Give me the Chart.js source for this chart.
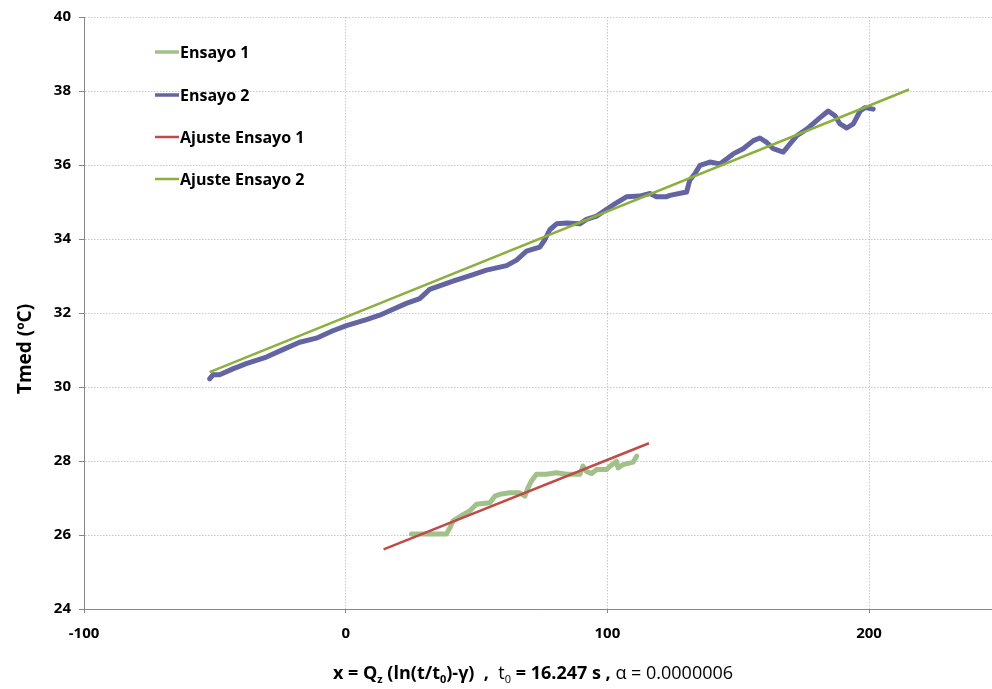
<!DOCTYPE html>
<html>
<head>
<meta charset="utf-8">
<script src="https://cdn.jsdelivr.net/npm/chart.js@4.4.1/dist/chart.umd.min.js"></script>
<style>
  html, body { margin: 0; padding: 0; background: #fff; overflow: hidden; }
  #wrap { position: relative; width: 992px; height: 689px; }
  #c { position: absolute; left: 0; top: 0; }
  #xt { position: absolute; left: 0; top: 661px; width: 1066px; text-align: center;
        font-family: "Open Sans", sans-serif; font-size: 18px; color: #000; white-space: pre; line-height: 22px; }
  #xt b { font-weight: 700; }
  #xt .r { font-weight: 400; }
  #xt sub { font-size: 11px; vertical-align: -4px; line-height: 0; }
</style>
</head>
<body>
<div id="wrap">
  <canvas id="c" width="992" height="689"></canvas>
  <div id="xt"><b>x = Q<sub>z</sub> (ln(t/t<sub>0</sub>)-γ)  ,  </b><span class="r">t<sub>0</sub></span><b> = 16.247 s , </b><span class="r">α = 0.0000006</span></div>
</div>
<script>
// ---- data ----
const ensayo1X = [25.1, 30.9, 38.5, 39.8, 41.0, 44.2, 47.4, 50.0, 55.1, 57.0, 58.9, 62.7, 66.5, 68.5, 69.7, 71.0, 72.9, 76.7, 80.6, 84.4, 89.5, 90.7, 92.0, 94.0, 95.9, 99.7, 101.0, 103.5, 104.1, 106.0, 109.9, 111.2];
const ensayo1Y = [26.03, 26.03, 26.03, 26.19, 26.38, 26.52, 26.65, 26.83, 26.87, 27.05, 27.10, 27.14, 27.14, 27.05, 27.28, 27.46, 27.64, 27.64, 27.68, 27.64, 27.64, 27.86, 27.72, 27.66, 27.77, 27.77, 27.86, 27.99, 27.81, 27.90, 27.97, 28.13];

const ensayo2X = [-52.0, -50.7, -48.2, -43.1, -38.0, -30.3, -24.0, -17.6, -11.2, -4.9, 0.3, 4.1, 7.9, 13.0, 18.1, 23.2, 28.3, 32.1, 41.0, 48.7, 53.8, 61.5, 65.3, 69.1, 74.2, 76.1, 78.0, 80.6, 84.4, 89.5, 92.0, 95.9, 99.7, 102.2, 107.3, 112.4, 116.3, 118.8, 122.6, 123.9, 130.3, 131.5, 133.5, 135.4, 139.2, 143.0, 148.1, 151.9, 155.8, 158.3, 160.9, 163.4, 167.2, 169.8, 172.4, 176.2, 181.3, 184.4, 187.0, 188.9, 191.5, 194.0, 196.6, 198.5, 201.6];
const ensayo2Y = [30.22, 30.33, 30.33, 30.49, 30.63, 30.81, 31.01, 31.21, 31.32, 31.52, 31.66, 31.74, 31.82, 31.94, 32.10, 32.26, 32.39, 32.64, 32.86, 33.04, 33.16, 33.28, 33.43, 33.67, 33.78, 33.98, 34.25, 34.41, 34.43, 34.41, 34.53, 34.62, 34.80, 34.92, 35.14, 35.16, 35.23, 35.14, 35.14, 35.18, 35.27, 35.59, 35.77, 35.99, 36.08, 36.03, 36.30, 36.44, 36.66, 36.73, 36.61, 36.44, 36.35, 36.57, 36.79, 36.97, 37.28, 37.46, 37.33, 37.11, 37.00, 37.11, 37.46, 37.55, 37.51];

const ajuste1X = [14.5, 115.9];
const ajuste1Y = [25.61, 28.48];
const ajuste2X = [-52.0, 215.3];
const ajuste2Y = [30.40, 38.04];

const xTickValues = [-100, 0, 100, 200];
const yMin = 24, yMax = 40, yStep = 2;
const xMin = -100, xMax = 247;

const seriesNames = ['Ensayo 1', 'Ensayo 2', 'Ajuste Ensayo 1', 'Ajuste Ensayo 2'];
const seriesColors = ['#a2c08a', '#6464a2', '#be4b48', '#8cb03e'];
const yTitle = 'Tmed (ºC)';

// ---- build ----
const pts = (xs, ys) => xs.map((x, i) => ({ x: x, y: ys[i] }));
const FONT = '"Open Sans", "DejaVu Sans", sans-serif';

const legendPlugin = {
  id: 'customLegendAndTitle',
  afterDraw(chart) {
    const ctx = chart.ctx;
    ctx.save();
    const rows = [52, 95, 137, 179];
    const widths = [3.5, 3.5, 2.5, 2.5];
    ctx.font = 'bold 16px ' + FONT;
    ctx.textBaseline = 'middle';
    ctx.textAlign = 'left';
    seriesNames.forEach((name, i) => {
      ctx.strokeStyle = seriesColors[i];
      ctx.lineWidth = widths[i];
      ctx.beginPath();
      ctx.moveTo(155, rows[i]);
      ctx.lineTo(179, rows[i]);
      ctx.stroke();
      ctx.fillStyle = '#000';
      ctx.fillText(name, 180, rows[i] + 1);
    });
    ctx.translate(26, 349);
    ctx.rotate(-Math.PI / 2);
    ctx.textAlign = 'center';
    ctx.font = 'bold 19px ' + FONT;
    ctx.fillText(yTitle, 0, 0);
    ctx.restore();
  }
};

new Chart(document.getElementById('c'), {
  type: 'scatter',
  data: {
    datasets: [
      { label: seriesNames[0], data: pts(ensayo1X, ensayo1Y), showLine: true, borderColor: seriesColors[0], backgroundColor: seriesColors[0], borderWidth: 5, pointRadius: 0, borderJoinStyle: 'round', borderCapStyle: 'round', order: 2 },
      { label: seriesNames[1], data: pts(ensayo2X, ensayo2Y), showLine: true, borderColor: seriesColors[1], backgroundColor: seriesColors[1], borderWidth: 5, pointRadius: 0, borderJoinStyle: 'round', borderCapStyle: 'round', order: 2 },
      { label: seriesNames[2], data: pts(ajuste1X, ajuste1Y), showLine: true, borderColor: seriesColors[2], backgroundColor: seriesColors[2], borderWidth: 2.5, pointRadius: 0, order: 1 },
      { label: seriesNames[3], data: pts(ajuste2X, ajuste2Y), showLine: true, borderColor: seriesColors[3], backgroundColor: seriesColors[3], borderWidth: 2.5, pointRadius: 0, order: 1 }
    ]
  },
  options: {
    responsive: false,
    animation: false,
    layout: { padding: { top: 12, right: 0, left: 0, bottom: 0 } },
    plugins: { legend: { display: false }, tooltip: { enabled: false } },
    scales: {
      x: {
        type: 'linear', min: xMin, max: xMax,
        afterBuildTicks: (s) => { s.ticks = xTickValues.map(v => ({ value: v })); },
        afterFit: (s) => { s.height = 80; },
        grid: { color: '#c8c8c8', lineWidth: 1, tickLength: 4, tickColor: '#868686' },
        border: { display: true, color: '#868686', width: 1, dash: [1.5, 1.5] },
        ticks: { color: '#000', font: { family: FONT, size: 15, weight: 'bold' }, padding: 12, maxRotation: 0 }
      },
      y: {
        type: 'linear', min: yMin, max: yMax,
        ticks: { stepSize: yStep, color: '#000', font: { family: FONT, size: 15, weight: 'bold' }, padding: 8 },
        afterFit: (s) => { s.width = 84; },
        grid: { color: '#c8c8c8', lineWidth: 1, tickLength: 5, tickColor: '#868686' },
        border: { display: true, color: '#868686', width: 1, dash: [1.5, 1.5] }
      }
    }
  },
  plugins: [legendPlugin]
});
</script>
</body>
</html>
